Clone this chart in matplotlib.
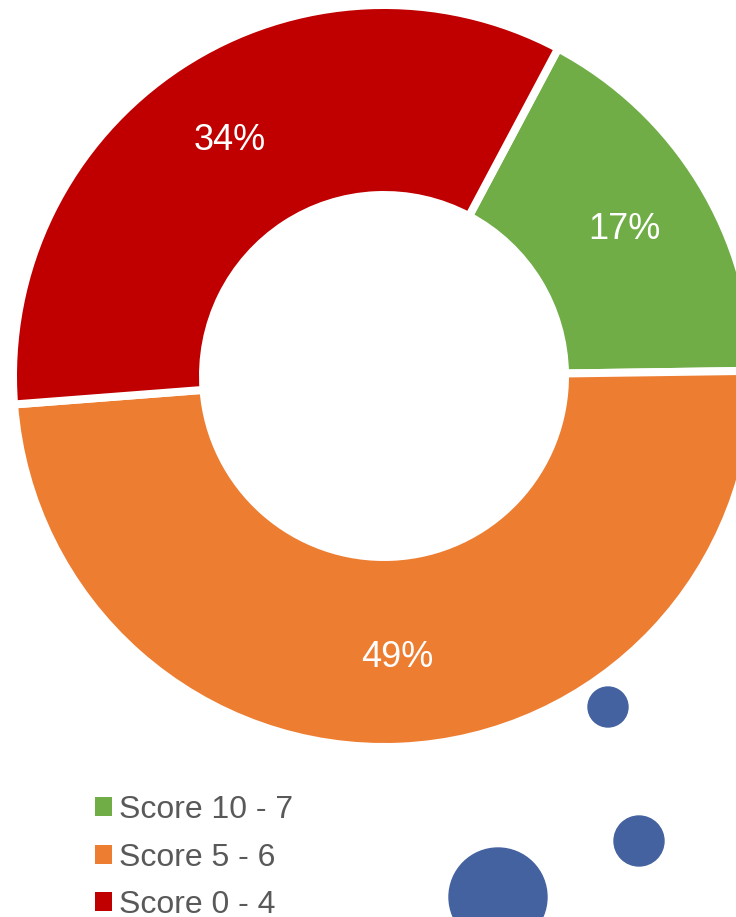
import matplotlib
matplotlib.use('Agg')
import matplotlib.pyplot as plt
from matplotlib.patches import Circle, Patch

plt.rcParams['font.family'] = ['Liberation Sans', 'DejaVu Sans']

# Data
labels = ['Score 10 - 7', 'Score 5 - 6', 'Score 0 - 4']
shares = [17, 49, 34]
colors = ['#70AD47', '#ED7D31', '#C00000']

# decorative blue dots (x, y, radius) in pixel-like units of the canvas
dots = [(608, 210, 20), (639, 76, 25), (498, 20, 49)]
dot_color = '#4462A0'

W, H = 736, 917
fig = plt.figure(figsize=(W / 100, H / 100), dpi=100)
ax = fig.add_axes([0, 0, 1, 1])

gap = 8  # white separator width in px
wedges, texts, autotexts = ax.pie(
    shares, colors=colors, startangle=62, counterclock=False,
    center=(384, 541), radius=367 + gap / 2,
    autopct='%d%%', pctdistance=0.76,
    wedgeprops=dict(width=190, edgecolor='white', linewidth=gap * 0.72),
    textprops=dict(color='white', fontsize=26),
)

for x, y, r in dots:
    ax.add_patch(Circle((x, y), r, color=dot_color, zorder=3))

ax.set_xlim(0, W)
ax.set_ylim(0, H)
ax.set_aspect('equal')
ax.axis('off')

handles = [Patch(facecolor=c, edgecolor='none') for c in colors]
fig.legend(handles, labels, loc='upper left', bbox_to_anchor=(0.129, 0.133),
           frameon=False, fontsize=23, labelcolor='#595959',
           handlelength=0.54, handleheight=0.54, handletextpad=0.22,
           labelspacing=0.55, borderpad=0, borderaxespad=0)

fig.savefig('out.png', dpi=100)
